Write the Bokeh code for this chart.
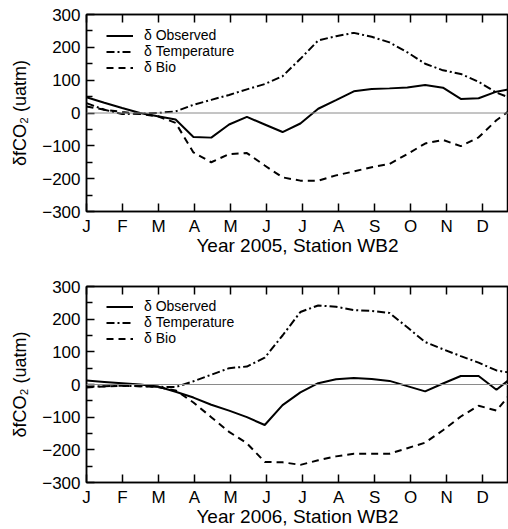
from bokeh.plotting import figure
from bokeh.models import FixedTicker, LinearAxis, Legend, LegendItem, Span, Range1d
from bokeh.layouts import column
from bokeh.embed import file_html
from bokeh.resources import INLINE

# ---- data -------------------------------------------------------------
month_labels = ["J", "F", "M", "A", "M", "J", "J", "A", "S", "O", "N", "D"]
month_ticks = [0, 1, 2, 3, 4, 5, 6, 7, 8, 9, 10, 11]

# semi-monthly sample positions (in months from 1 January)
x_months = [0.0, 0.495, 0.99, 1.485, 1.98, 2.475, 2.97, 3.465, 3.96, 4.455,
            4.95, 5.445, 5.94, 6.435, 6.93, 7.425, 7.92, 8.415, 8.91, 9.405,
            9.9, 10.395, 10.89, 11.385, 11.88]

obs_2005 = [48, 31, 15, 0, -10, -20, -73, -75, -35, -12,
            -35, -58, -32, 13, 39, 66, 73, 75, 78, 85,
            77, 43, 45, 65, 75]
temp_2005 = [30, 10, -3, -2, 0, 5, 25, 40, 55, 72,
             88, 112, 165, 221, 234, 244, 232, 215, 185, 150,
             130, 119, 95, 62, 41]
bio_2005 = [20, 10, 3, -3, -10, -30, -120, -150, -125, -122,
            -160, -196, -206, -206, -190, -178, -165, -155, -125, -93,
            -82, -101, -74, -22, 18]

obs_2006 = [12, 8, 4, 0, -6, -22, -40, -62, -80, -100,
            -124, -63, -24, 4, 16, 20, 17, 11, -5, -21,
            3, 26, 26, -16, 27]
temp_2006 = [-7, -5, -4, -5, -7, -8, 10, 30, 50, 55,
             82, 150, 222, 242, 238, 228, 225, 219, 175, 130,
             108, 87, 67, 43, 34]
bio_2006 = [-9, -6, -4, -5, -8, -18, -55, -100, -145, -180,
            -237, -238, -246, -232, -220, -212, -212, -212, -195, -178,
            -140, -98, -65, -80, -15]

series_names = ["\u03b4 Observed", "\u03b4 Temperature", "\u03b4 Bio"]
y_ticks = [-300, -200, -100, 0, 100, 200, 300]
y_minor = [-250, -150, -50, 50, 150, 250]

FONT = "Liberation Sans"


def make_panel(xlabel, obs, temp, bio, height, b_top, b_bottom):
    p = figure(width=508, height=height, output_backend="svg",
               toolbar_location=None,
               x_range=Range1d(0, 11.72), y_range=Range1d(-300, 300),
               min_border_left=86, min_border_right=0,
               min_border_top=b_top, min_border_bottom=b_bottom)
    p.grid.visible = False
    p.outline_line_color = "black"
    p.outline_line_width = 1.5
    p.background_fill_color = "white"
    p.border_fill_color = "white"

    # x axis (bottom)
    xa = p.xaxis[0]
    xa.ticker = FixedTicker(ticks=month_ticks)
    xa.major_label_overrides = {t: l for t, l in zip(month_ticks, month_labels)}
    xa.major_tick_in = 8
    xa.major_tick_out = 0
    xa.minor_tick_line_color = None
    xa.major_tick_line_width = 1.5
    xa.axis_line_width = 1.5
    xa.major_label_text_font = FONT
    xa.major_label_text_font_size = "17px"
    xa.major_label_text_color = "black"
    xa.major_label_standoff = 5
    xa.axis_label = xlabel
    xa.axis_label_text_font = FONT
    xa.axis_label_text_font_size = "19px"
    xa.axis_label_text_font_style = "normal"
    xa.axis_label_text_color = "black"
    xa.axis_label_standoff = -4

    # top axis with ticks only (labels not drawn)
    ta = LinearAxis(ticker=FixedTicker(ticks=month_ticks),
                    major_tick_in=8, major_tick_out=0,
                    major_tick_line_width=1.5,
                    minor_tick_line_color=None,
                    major_label_text_color=None,
                    major_label_standoff=0,
                    axis_line_width=1.5)
    p.add_layout(ta, "above")

    # y axis
    ya = p.yaxis[0]
    ya.ticker = FixedTicker(ticks=y_ticks, minor_ticks=y_minor)
    ya.major_tick_in = 8
    ya.major_tick_out = 0
    ya.minor_tick_in = 6
    ya.minor_tick_out = 0
    ya.major_tick_line_width = 1.5
    ya.minor_tick_line_width = 1.5
    ya.axis_line_width = 1.5
    ya.major_label_text_font = FONT
    ya.major_label_text_font_size = "17px"
    ya.major_label_text_color = "black"
    ya.major_label_standoff = 6
    ya.axis_label = "\u03b4fCO\u2082 (uatm)"
    ya.axis_label_text_font = FONT
    ya.axis_label_text_font_size = "18px"
    ya.axis_label_text_font_style = "normal"
    ya.axis_label_text_color = "black"
    ya.axis_label_standoff = 9

    p.add_layout(Span(location=0, dimension="width",
                      line_color="#8a8a8a", line_width=1))

    r_obs = p.line(x_months, obs, line_color="black", line_width=2)
    r_temp = p.line(x_months, temp, line_color="black", line_width=2,
                    line_dash="8 3 2 3")
    r_bio = p.line(x_months, bio, line_color="black", line_width=2,
                   line_dash="7 5")

    legend = Legend(items=[LegendItem(label=series_names[0], renderers=[r_obs]),
                           LegendItem(label=series_names[1], renderers=[r_temp]),
                           LegendItem(label=series_names[2], renderers=[r_bio])],
                    location=(20, 136),
                    label_text_font=FONT, label_text_font_size="14px",
                    label_text_color="black",
                    glyph_width=27, glyph_height=13, label_height=13,
                    label_standoff=11, spacing=0, padding=0, margin=0,
                    border_line_color=None, background_fill_alpha=0)
    p.add_layout(legend)
    return p


p1 = make_panel("Year 2005, Station WB2", obs_2005, temp_2005, bio_2005,
                265, 14, 54)
p2 = make_panel("Year 2006, Station WB2", obs_2006, temp_2006, bio_2006,
                264, 21, 47)

layout = column(p1, p2, spacing=0)
open("out.html", "w").write(file_html(layout, INLINE))
